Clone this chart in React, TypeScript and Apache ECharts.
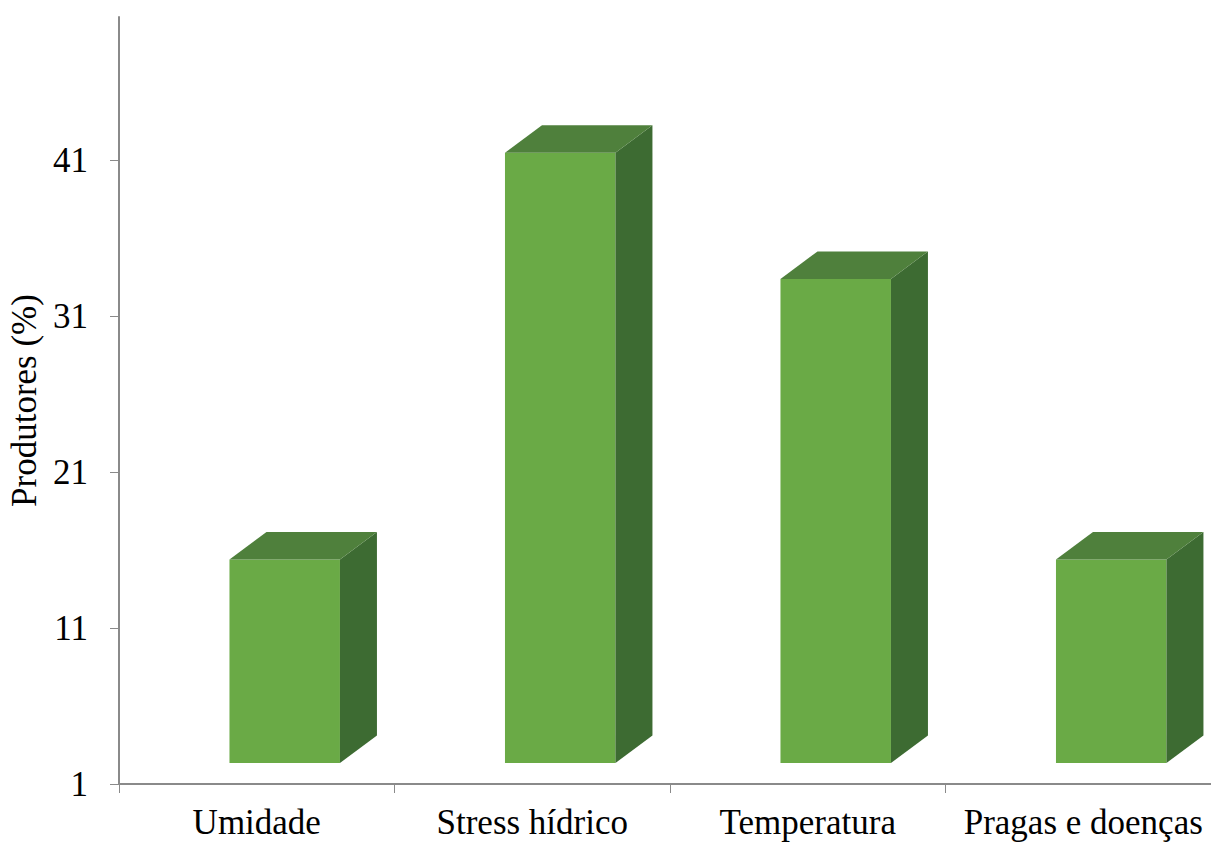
import React, { useEffect, useRef } from "react";
import * as echarts from "echarts";

const categories = ["Umidade", "Stress hídrico", "Temperatura", "Pragas e doenças"];
const values = [15.4, 41.5, 33.4, 15.4];
const yTicks = [1, 11, 21, 31, 41];
const yMin = 1;
const yMax = 50.2;

const FRONT = "#6aaa46";
const TOP = "#4f803c";
const SIDE = "#3d6b32";
const AXIS = "#8a8a8a";
const FONT = "Liberation Serif";

export default function App() {
  const ref = useRef<HTMLDivElement>(null);
  useEffect(() => {
    if (!ref.current) return;
    const chart = echarts.init(ref.current, null, { renderer: "svg" });
    chart.setOption({
      animation: false,
      backgroundColor: "#ffffff",
      grid: {
        left: 119,
        right: -10,
        top: 17,
        bottom: 60,
        containLabel: false,
        outerBoundsMode: "none",
      },
      xAxis: {
        type: "category",
        data: categories,
        boundaryGap: true,
        axisLine: { show: true, lineStyle: { color: AXIS, width: 2 } },
        axisTick: { show: true, length: 9, lineStyle: { color: AXIS, width: 1 } },
        axisLabel: { color: "#000", fontFamily: FONT, fontSize: 35, margin: 21, interval: 0, hideOverlap: false },
        splitLine: { show: false },
      },
      yAxis: {
        type: "value",
        min: yMin,
        max: yMax,
        name: "Produtores (%)",
        nameLocation: "middle",
        nameRotate: 90,
        nameGap: 76,
        nameTextStyle: { color: "#000", fontFamily: FONT, fontSize: 35 },
        axisLine: { show: true, lineStyle: { color: AXIS, width: 2 } },
        axisTick: { show: true, length: 9, lineStyle: { color: AXIS, width: 1 }, customValues: yTicks },
        axisLabel: { color: "#000", fontFamily: FONT, fontSize: 35, margin: 31, customValues: yTicks },
        splitLine: { show: false },
      },
      series: [
        {
          type: "custom",
          data: values.map((v, i) => [i, v]),
          renderItem: (params: any, api: any) => {
            const idx = api.value(0);
            const v = api.value(1);
            const top = api.coord([idx, v]);
            const base = api.coord([idx, yMin]);
            const band = api.size([1, 0])[0];
            const w = band * 0.401;
            const xL = top[0] - band * 0.099;
            const xR = xL + w;
            const yT = top[1];
            const yB = base[1] - 21;
            const dx = 37;
            const dy = 27.5;
            return {
              type: "group",
              children: [
                {
                  type: "polygon",
                  shape: { points: [[xL, yT], [xR, yT], [xR, yB], [xL, yB]] },
                  style: { fill: FRONT },
                },
                {
                  type: "polygon",
                  shape: { points: [[xR, yT], [xR + dx, yT - dy], [xR + dx, yB - dy], [xR, yB]] },
                  style: { fill: SIDE },
                },
                {
                  type: "polygon",
                  shape: { points: [[xL, yT], [xL + dx, yT - dy], [xR + dx, yT - dy], [xR, yT]] },
                  style: { fill: TOP },
                },
              ],
            };
          },
        },
      ],
    });
    return () => chart.dispose();
  }, []);
  return (
    <div
      ref={ref}
      style={{ position: "absolute", left: 0, top: 0, width: 1211, height: 844, background: "#fff" }}
    />
  );
}
